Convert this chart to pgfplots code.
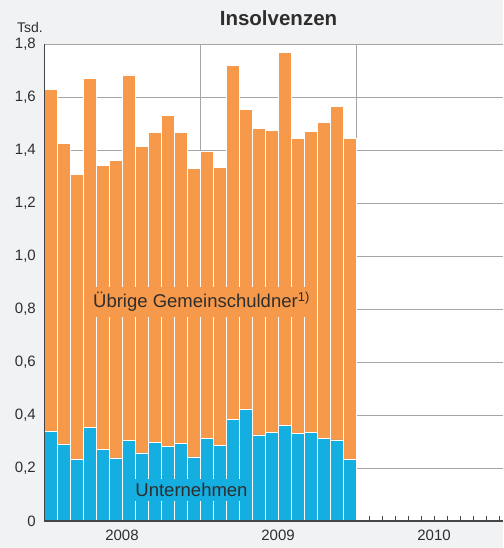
\documentclass[border=0pt]{standalone}
\usepackage{fontspec}
\setmainfont{Liberation Sans}
\usepackage{pgfplots}
\usepackage{pgfplotstable}
\pgfplotsset{compat=1.18}

\definecolor{bg}{HTML}{F1F2F4}
\definecolor{orangebar}{HTML}{F7994A}
\definecolor{bluebar}{HTML}{14AEE0}
\definecolor{gridgray}{HTML}{A6A6A6}
\definecolor{axisdark}{HTML}{454545}
\definecolor{txt}{HTML}{2E2E2E}

% Monate 2008/2009, Mitte des Monats; u = Unternehmen, g = Uebrige Gemeinschuldner (Tsd.)
\pgfplotstableread{
x     u      g
0.5   0.338  1.291
1.5   0.289  1.136
2.5   0.233  1.076
3.5   0.352  1.317
4.5   0.269  1.073
5.5   0.238  1.124
6.5   0.303  1.380
7.5   0.257  1.158
8.5   0.295  1.172
9.5   0.282  1.249
10.5  0.292  1.175
11.5  0.242  1.090
12.5  0.310  1.084
13.5  0.284  1.049
14.5  0.382  1.338
15.5  0.420  1.134
16.5  0.325  1.157
17.5  0.333  1.142
18.5  0.360  1.408
19.5  0.330  1.113
20.5  0.335  1.134
21.5  0.312  1.191
22.5  0.306  1.260
23.5  0.231  1.212
}\insolv

\begin{document}
\begin{tikzpicture}
  \fill[bg] (0,0) rectangle (503pt,548pt);
  \begin{axis}[
      at={(44pt,27pt)}, anchor=south west,
      scale only axis, width=459pt, height=477pt,
      xmin=0, xmax=35.3077, ymin=0, ymax=1.8,
      axis background/.style={fill=white},
      axis line style={draw=none},
      ybar stacked, bar width=13pt,
      ytick={0,0.2,0.4,0.6,0.8,1.0,1.2,1.4,1.6,1.8},
      yticklabels={0,{0,2},{0,4},{0,6},{0,8},{1,0},{1,2},{1,4},{1,6},{1,8}},
      ytick style={draw=none},
      yticklabel style={anchor=east, inner sep=0pt, xshift=-8pt,
        font=\fontsize{15}{18}\selectfont, text=txt},
      ymajorgrids=true,
      major grid style={gridgray, line width=0.9pt},
      xtick={6,18,30},
      xticklabels={2008,2009,2010},
      minor xtick={0,1,...,36},
      xtick pos=bottom, xtick align=inside,
      major x tick style={draw=none},
      minor tick length=5pt,
      minor x tick style={axisdark, line width=0.6pt},
      xticklabel style={yshift=-5pt, font=\fontsize{15}{18}\selectfont, text=txt},
      extra x ticks={12,24},
      extra x tick labels={,},
      extra x tick style={xmajorgrids=true, major x tick style={draw=none}},
    ]
    \addplot[fill=bluebar, draw=white, line width=0.7pt] table[x=x, y=u] {\insolv};
    \addplot[fill=orangebar, draw=white, line width=0.7pt] table[x=x, y=g] {\insolv};
  \end{axis}
  \draw[axisdark, line width=0.9pt] (44pt,27pt) -- (44pt,504pt);
  \draw[axisdark, line width=1.6pt] (44pt,27pt) -- (503pt,27pt);
  \node[fill=orangebar, inner sep=5pt, text=txt, font=\fontsize{18.5}{22}\selectfont]
    at (201.5pt,246pt) {Übrige Gemeinschuldner\textsuperscript{1)}};
  \node[fill=bluebar, inner sep=4pt, text=txt, font=\fontsize{18.5}{22}\selectfont]
    at (191.5pt,58pt) {Unternehmen};
  \node[font=\bfseries\fontsize{20.5}{24}\selectfont, text=txt] at (278.5pt,530pt) {Insolvenzen};
  \node[font=\fontsize{14}{17}\selectfont, text=txt] at (30pt,520.5pt) {Tsd.};
  \pgfresetboundingbox
  \path[use as bounding box] (0,0) rectangle (503pt,548pt);
\end{tikzpicture}
\end{document}
